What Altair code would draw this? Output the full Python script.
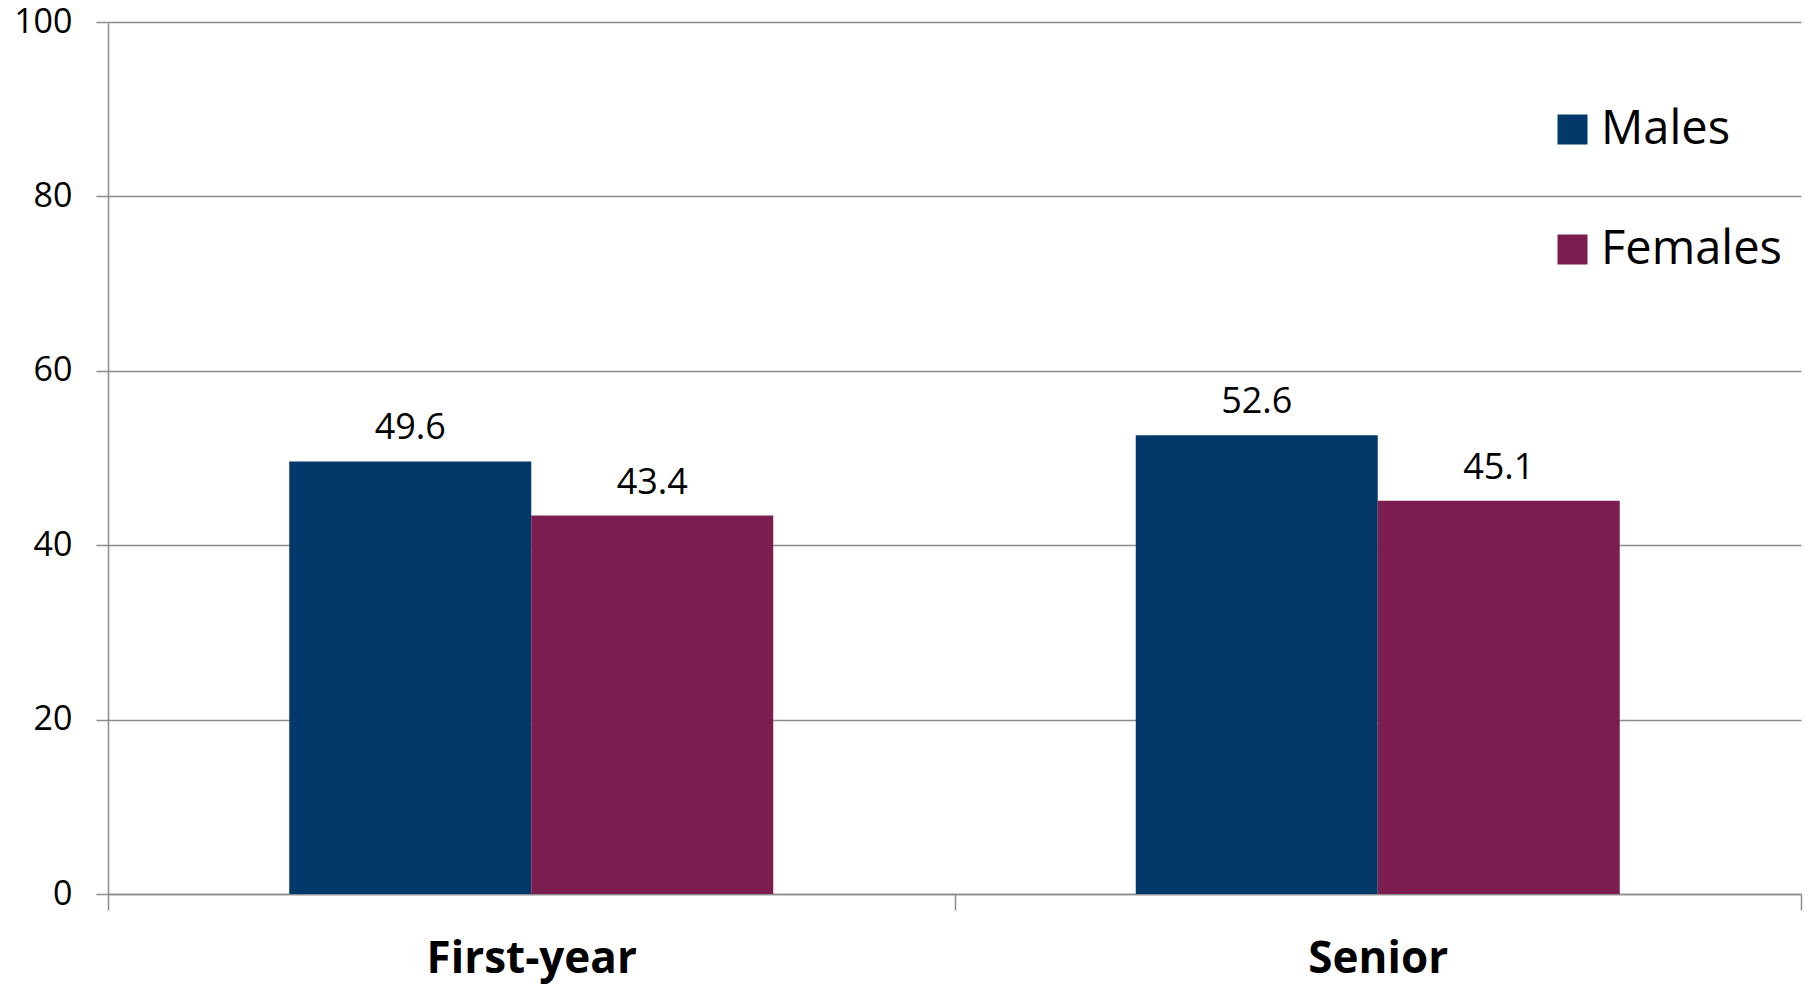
import altair as alt
import pandas as pd

categories = ["First-year", "Senior"]
groups = ["Males", "Females"]
males = [49.6, 52.6]
females = [43.4, 45.1]
colors = ["#03386A", "#7C1D4F"]
y_ticks = [0, 20, 40, 60, 80, 100]

rows = []
for i, c in enumerate(categories):
    rows.append({"Year": c, "Gender": "Males", "Value": males[i]})
    rows.append({"Year": c, "Gender": "Females", "Value": females[i]})
df = pd.DataFrame(rows)

FONT = "Open Sans"
GRID = "#8C8C8C"

base = alt.Chart(df).encode(
    x=alt.X(
        "Year:N",
        sort=categories,
        scale=alt.Scale(paddingInner=0, paddingOuter=0),
        axis=alt.Axis(
            title=None,
            labelAngle=0,
            labelFont=FONT,
            labelFontSize=44,
            labelFontWeight="bold",
            labelColor="black",
            labelBaseline="alphabetic",
            labelPadding=62,
            labelLimit=0,
            tickBand="extent",
            tickSize=16,
            tickColor=GRID,
            tickWidth=1.5,
            domainColor=GRID,
            domainWidth=1.5,
            grid=False,
        ),
    ),
    xOffset=alt.XOffset(
        "Gender:N", sort=groups, scale=alt.Scale(paddingInner=0, paddingOuter=0.749)
    ),
    y=alt.Y(
        "Value:Q",
        scale=alt.Scale(domain=[0, 100], nice=False),
        axis=alt.Axis(
            title=None,
            values=y_ticks,
            format="d",
            labelFont=FONT,
            labelFontSize=34,
            labelColor="black",
            labelPadding=24,
            tickSize=12,
            tickColor=GRID,
            tickWidth=1.5,
            domainColor=GRID,
            domainWidth=1.5,
            grid=True,
            gridColor=GRID,
            gridWidth=1.5,
        ),
    ),
)

bars = base.mark_bar().encode(
    color=alt.Color(
        "Gender:N",
        sort=groups,
        scale=alt.Scale(domain=groups, range=colors),
        legend=alt.Legend(
            title=None,
            orient="none",
            legendX=1441,
            legendY=84,
            symbolType="square",
            symbolSize=900,
            symbolStrokeWidth=0,
            symbolOpacity=1,
            labelFont=FONT,
            labelFontSize=47,
            labelColor="black",
            labelOffset=5,
            labelLimit=0,
            rowPadding=72,
            padding=0,
        ),
    )
)

labels = base.mark_text(
    baseline="alphabetic", dy=-22, font=FONT, fontSize=36, color="black"
).encode(text=alt.Text("Value:Q", format=".1f"))

chart = (
    alt.layer(bars, labels)
    .properties(
        width=1693,
        height=872,
        padding={"left": 108, "top": 22, "right": 9, "bottom": 95},
        autosize=alt.AutoSizeParams(type="none"),
        background="white",
    )
    .configure_view(strokeWidth=0)
)

chart.save("out.html", embed_options={"renderer": "svg", "actions": False})
